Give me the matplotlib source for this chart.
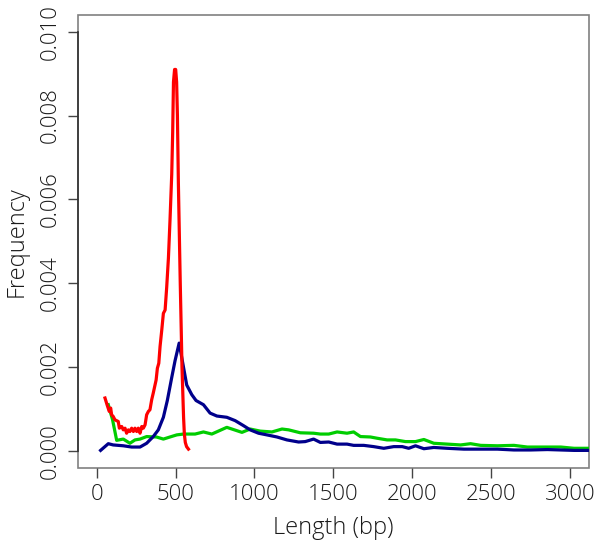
import numpy as np
import matplotlib
matplotlib.use("Agg")
import matplotlib.pyplot as plt
from matplotlib.patches import Rectangle

plt.rcParams['font.family'] = ['Open Sans', 'DejaVu Sans']
plt.rcParams['font.weight'] = 'light'
plt.rcParams['axes.labelweight'] = 'light'

# fragment length (bp) and frequency
red_len = [53, 66, 80, 89, 95, 105, 116, 137, 144, 159, 169, 180, 190, 201, 211, 222, 233, 243,
           254, 264, 275, 286, 296, 307, 317, 328, 338, 349, 359, 377, 385, 394, 402, 413, 423,
           434, 444, 455, 465, 476, 482, 487, 494, 501, 507, 512, 518, 525, 530, 535, 541, 546,
           551, 556, 562, 570, 582]
red_freq = [0.00126, 0.00110, 0.00094, 0.00102, 0.00086, 0.00082, 0.00074, 0.00070, 0.00054,
            0.00058, 0.00050, 0.00054, 0.00042, 0.00050, 0.00046, 0.00054, 0.00046, 0.00054,
            0.00046, 0.00054, 0.00042, 0.00058, 0.00054, 0.00062, 0.00086, 0.00094, 0.00098,
            0.00122, 0.00138, 0.00169, 0.00197, 0.00209, 0.00249, 0.00289, 0.00328, 0.00336,
            0.0039, 0.0046, 0.0055, 0.0066, 0.0076, 0.0088, 0.0091, 0.0091, 0.0088, 0.0080,
            0.0064, 0.0050, 0.0040, 0.0031, 0.0020, 0.0014, 0.0008, 0.0004, 0.0002, 0.0001,
            0.00004]

blue_len = [25, 74, 105, 169, 222, 275, 317, 359, 391, 423, 448, 476, 497, 523, 546, 571, 603,
            630, 677, 719, 762, 825, 878, 931, 973, 1026, 1079, 1143, 1206, 1280, 1322, 1375,
            1418, 1471, 1524, 1587, 1629, 1693, 1756, 1820, 1883, 1937, 1978, 2021, 2074, 2137,
            2222, 2328, 2434, 2540, 2645, 2751, 2857, 2942, 3026, 3121]
blue_freq = [0.00001, 0.00017, 0.00014, 0.00012, 0.00009, 0.00009, 0.00018, 0.00034, 0.00050,
             0.00080, 0.00120, 0.00175, 0.00215, 0.00257, 0.00209, 0.00157, 0.00134, 0.00120,
             0.00110, 0.00090, 0.00083, 0.00080, 0.00072, 0.00060, 0.00050, 0.00042, 0.00038,
             0.00033, 0.00026, 0.00021, 0.00022, 0.00028, 0.00020, 0.00021, 0.00016, 0.00016,
             0.00013, 0.00013, 0.00010, 0.00006, 0.00010, 0.00010, 0.00006, 0.00012, 0.00005,
             0.00008, 0.00006, 0.00004, 0.00004, 0.00004, 0.00002, 0.00002, 0.00003, 0.00002,
             0.00001, 0.00001]

green_len = [74, 101, 127, 169, 211, 243, 275, 317, 379, 423, 465, 508, 550, 624, 677, 730, 825,
             921, 973, 1037, 1111, 1175, 1217, 1291, 1375, 1418, 1471, 1524, 1587, 1629, 1672,
             1735, 1778, 1841, 1894, 1957, 2021, 2074, 2137, 2222, 2307, 2370, 2434, 2540, 2645,
             2730, 2857, 2942, 3026, 3121]
green_freq = [0.00110, 0.00074, 0.00025, 0.00028, 0.00018, 0.00026, 0.00028, 0.00034, 0.00033,
              0.00028, 0.00033, 0.00038, 0.00040, 0.00040, 0.00045, 0.00040, 0.00056, 0.00044,
              0.00052, 0.00047, 0.00045, 0.00052, 0.00050, 0.00043, 0.00042, 0.00040, 0.00040,
              0.00045, 0.00042, 0.00045, 0.00034, 0.00033, 0.00030, 0.00026, 0.00026, 0.00022,
              0.00022, 0.00027, 0.00018, 0.00016, 0.00014, 0.00017, 0.00013, 0.00012, 0.00013,
              0.00009, 0.00009, 0.00009, 0.00006, 0.00006]

x_ticks = [0, 500, 1000, 1500, 2000, 2500, 3000]
y_ticks = [0.000, 0.002, 0.004, 0.006, 0.008, 0.010]

fig = plt.figure(figsize=(6, 5.54), dpi=100)
ax = fig.add_axes([0.1295, 0.156, 0.852, 0.817])

lw = 2.3
ax.plot(green_len, green_freq, color='#00cd00', lw=lw, solid_joinstyle='round')
ax.plot(blue_len, blue_freq, color='#00008b', lw=lw, solid_joinstyle='round')
ax.plot(red_len, red_freq, color='#ff0000', lw=lw, solid_joinstyle='round')

ax.set_xlim(-120, 3120)
ax.set_ylim(-0.0004, 0.0104)

txt = '#1a1a1a'
ax.set_xticks(x_ticks)
ax.set_xticklabels([str(t) for t in x_ticks])
ax.set_yticks(y_ticks)
ax.set_yticklabels([f"{t:.3f}" for t in y_ticks], rotation=90, va='center')
ax.tick_params(length=7, width=1, color='#444444', labelcolor=txt, labelsize=16, pad=5)

# R style: light box all round, darker axis line between first and last ticks
for s in ax.spines.values():
    s.set_visible(False)
ax.add_patch(Rectangle((0, 0), 1, 1, transform=ax.transAxes, fill=False,
                       edgecolor='#808080', lw=1.2, clip_on=False, zorder=0))
ax.spines['left'].set_visible(True)
ax.spines['left'].set_bounds(y_ticks[0], y_ticks[-1])
ax.spines['left'].set_color('#333333')
ax.spines['left'].set_linewidth(1.2)

ax.set_xlabel('Length (bp)', fontsize=17, color=txt, labelpad=8)
ax.set_ylabel('Frequency', fontsize=17, color=txt, labelpad=8)

fig.savefig('out.png', dpi=100)
